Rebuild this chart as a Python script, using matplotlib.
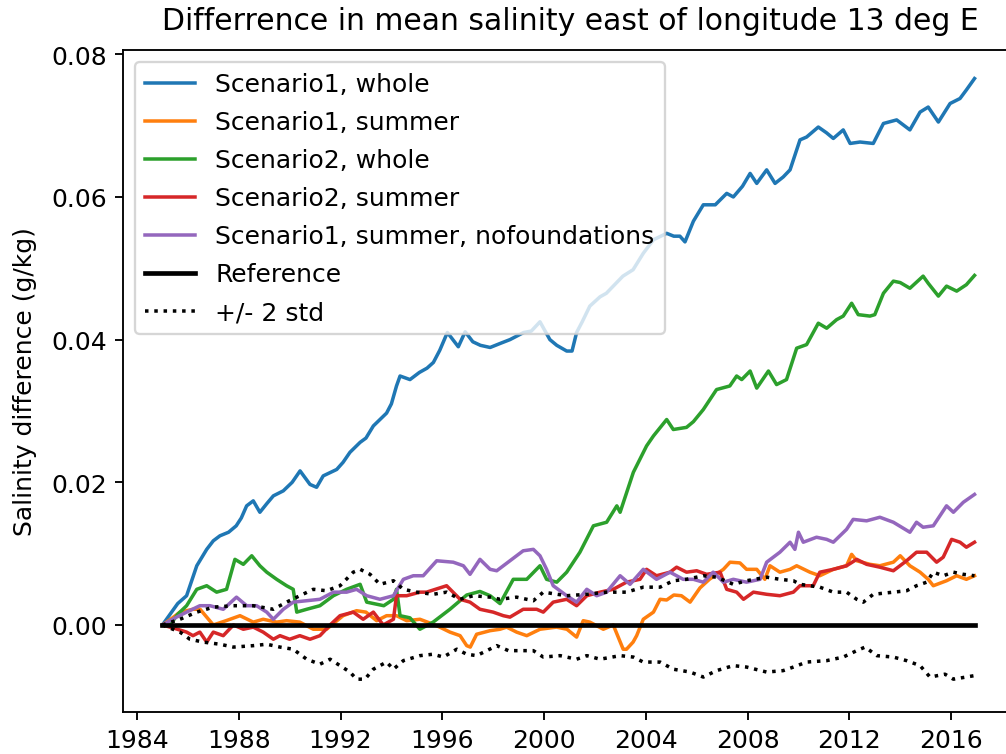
import matplotlib
matplotlib.use("Agg")
import matplotlib.pyplot as plt

# ---------------- data (decimal years, g/kg) ----------------
s1_whole_t = [1985.0, 1985.3, 1985.6, 1985.95, 1986.35, 1986.74, 1987.0, 1987.26, 1987.6, 1987.9,
              1988.1, 1988.31, 1988.57, 1988.83, 1989.1, 1989.36, 1989.75, 1990.1, 1990.41, 1990.8,
              1991.06, 1991.32, 1991.85, 1992.1, 1992.37, 1992.77, 1993.0, 1993.29, 1993.81, 1994.0,
              1994.2, 1994.34, 1994.73, 1995.1, 1995.4, 1995.65, 1995.9, 1996.2, 1996.63, 1996.9,
              1997.2, 1997.5, 1997.88, 1998.3, 1998.66, 1999.2, 1999.5, 1999.84, 2000.23, 2000.5,
              2000.89, 2001.1, 2001.28, 2001.5, 2001.8, 2002.2, 2002.45, 2002.72, 2003.1, 2003.5,
              2003.9, 2004.3, 2004.82, 2005.1, 2005.34, 2005.54, 2005.87, 2006.26, 2006.73, 2007.18,
              2007.44, 2007.8, 2008.1, 2008.36, 2008.75, 2009.08, 2009.4, 2009.67, 2010.06, 2010.32,
              2010.78, 2011.1, 2011.37, 2011.76, 2012.03, 2012.42, 2012.94, 2013.34, 2013.86, 2014.38,
              2014.78, 2015.1, 2015.5, 2015.96, 2016.35, 2016.6, 2016.92]
s1_whole_v = [0.0, 0.0015, 0.003, 0.0041, 0.0083, 0.0106, 0.0118, 0.0125, 0.0130, 0.0139,
              0.0150, 0.0167, 0.0174, 0.0158, 0.0170, 0.0181, 0.0188, 0.0200, 0.0216, 0.0197,
              0.0193, 0.0209, 0.0218, 0.0228, 0.0242, 0.0256, 0.0262, 0.0279, 0.0297, 0.0310,
              0.0335, 0.0349, 0.0344, 0.0354, 0.0360, 0.0368, 0.0385, 0.0410, 0.0390, 0.0411,
              0.0397, 0.0392, 0.0389, 0.0395, 0.0400, 0.0410, 0.0412, 0.0425, 0.0400, 0.0392,
              0.0384, 0.0384, 0.0410, 0.0425, 0.0447, 0.0460, 0.0465, 0.0475, 0.0489, 0.0498,
              0.0521, 0.0540, 0.0549, 0.0545, 0.0545, 0.0537, 0.0566, 0.0589, 0.0589, 0.0605,
              0.0600, 0.0615, 0.0633, 0.0619, 0.0638, 0.0619, 0.0628, 0.0638, 0.0680, 0.0684,
              0.0698, 0.0690, 0.0682, 0.0694, 0.0675, 0.0677, 0.0675, 0.0703, 0.0708, 0.0694,
              0.0719, 0.0726, 0.0705, 0.0731, 0.0738, 0.0750, 0.0766]

s1_summer_t = [1985.0, 1985.4, 1985.69, 1986.2, 1986.48, 1987.0, 1987.5, 1988.05, 1988.57, 1988.96,
               1989.49, 1989.88, 1990.4, 1990.93, 1991.45, 1992.1, 1992.63, 1993.0, 1993.42, 1993.81,
               1994.2, 1994.6, 1995.12, 1995.64, 1995.9, 1996.3, 1996.7, 1996.96, 1997.1, 1997.35,
               1997.88, 1998.27, 1998.53, 1998.92, 1999.32, 1999.84, 2000.49, 2000.9, 2001.28, 2001.54,
               2001.8, 2002.33, 2002.72, 2003.11, 2003.24, 2003.5, 2003.64, 2003.9, 2004.3, 2004.56,
               2004.82, 2005.1, 2005.4, 2005.74, 2006.13, 2006.5, 2007.05, 2007.31, 2007.7, 2007.96,
               2008.36, 2008.68, 2008.88, 2009.27, 2009.67, 2009.93, 2010.45, 2010.84, 2011.37, 2011.89,
               2012.09, 2012.29, 2012.81, 2013.2, 2013.73, 2014.0, 2014.38, 2014.78, 2015.1, 2015.3,
               2015.82, 2016.22, 2016.6, 2016.92]
s1_summer_v = [0.0, 0.001, 0.0018, 0.0022, 0.0022, 0.0, 0.0006, 0.0013, 0.0004, 0.0008,
               0.0004, 0.0006, 0.0004, -0.0006, -0.0006, 0.0013, 0.002, 0.0018, 0.0006, 0.0013,
               0.0013, 0.0006, 0.0008, 0.0001, -0.0003, -0.001, -0.0015, -0.0029, -0.0031, -0.0013,
               -0.0008, -0.0006, -0.0003, -0.001, -0.0015, -0.0006, -0.0003, -0.0006, -0.0017, 0.0006,
               0.0004, -0.0006, 0.0, -0.0034, -0.0034, -0.0024, -0.0015, 0.0008, 0.0018, 0.0036,
               0.0035, 0.0042, 0.0041, 0.0032, 0.0052, 0.0064, 0.0078, 0.0088, 0.0087, 0.0078,
               0.0078, 0.0064, 0.0083, 0.0074, 0.0078, 0.0083, 0.0074, 0.0069, 0.0078, 0.0083,
               0.0099, 0.0090, 0.0085, 0.0083, 0.0088, 0.0097, 0.0083, 0.0074, 0.0064, 0.0055,
               0.0062, 0.0069, 0.0064, 0.0069]

s2_whole_t = [1985.0, 1985.3, 1985.6, 1985.95, 1986.35, 1986.74, 1987.13, 1987.52, 1987.85, 1988.18,
              1988.51, 1988.83, 1989.1, 1989.49, 1989.88, 1990.14, 1990.28, 1990.67, 1991.19, 1991.72,
              1992.24, 1992.77, 1993.03, 1993.7, 1994.08, 1994.2, 1994.34, 1994.73, 1995.12, 1995.64,
              1996.3, 1996.96, 1997.48, 1997.88, 1998.27, 1998.79, 1999.32, 1999.84, 2000.1, 2000.5,
              2000.89, 2001.41, 2001.94, 2002.46, 2002.86, 2002.99, 2003.51, 2004.03, 2004.3, 2004.82,
              2005.08, 2005.6, 2005.87, 2006.26, 2006.78, 2007.3, 2007.57, 2007.77, 2008.1, 2008.36,
              2008.82, 2009.14, 2009.53, 2009.93, 2010.32, 2010.78, 2011.11, 2011.5, 2011.76, 2012.09,
              2012.35, 2012.81, 2013.0, 2013.34, 2013.73, 2014.0, 2014.38, 2014.9, 2015.1, 2015.5,
              2015.82, 2016.22, 2016.6, 2016.92]
s2_whole_v = [0.0, 0.0, 0.0015, 0.0027, 0.005, 0.0055, 0.0046, 0.005, 0.0092, 0.0085,
              0.0097, 0.0083, 0.0074, 0.0064, 0.0055, 0.005, 0.0018, 0.0022, 0.0027, 0.0041,
              0.005, 0.0057, 0.0032, 0.0027, 0.0036, 0.005, 0.0013, 0.0010, -0.0006, 0.0004,
              0.0022, 0.0042, 0.0047, 0.0041, 0.0030, 0.0064, 0.0064, 0.0083, 0.0064, 0.006,
              0.0074, 0.0102, 0.0139, 0.0144, 0.0167, 0.0158, 0.0214, 0.0251, 0.0265, 0.0288,
              0.0274, 0.0277, 0.0285, 0.0302, 0.0330, 0.0335, 0.0349, 0.0344, 0.0356, 0.0332,
              0.0356, 0.0337, 0.0344, 0.0388, 0.0393, 0.0423, 0.0416, 0.0428, 0.0433, 0.0451,
              0.0435, 0.0433, 0.0435, 0.0465, 0.0482, 0.0480, 0.0472, 0.0489, 0.0479, 0.0461,
              0.0475, 0.0468, 0.0477, 0.0490]

s2_summer_t = [1985.0, 1985.5, 1985.95, 1986.2, 1986.47, 1986.74, 1987.0, 1987.39, 1987.79, 1988.18,
               1988.57, 1988.96, 1989.36, 1989.62, 1990.0, 1990.4, 1990.8, 1991.19, 1991.59, 1991.98,
               1992.5, 1992.89, 1993.29, 1993.68, 1994.08, 1994.2, 1994.6, 1995.12, 1995.38, 1996.17,
               1996.7, 1997.09, 1997.48, 1998.0, 1998.4, 1998.66, 1999.18, 1999.71, 1999.97, 2000.36,
               2000.89, 2001.28, 2001.68, 2002.2, 2002.72, 2003.24, 2003.77, 2004.03, 2004.42, 2004.95,
               2005.21, 2005.6, 2006.0, 2006.39, 2006.92, 2007.18, 2007.57, 2007.84, 2008.23, 2008.75,
               2009.27, 2009.8, 2010.06, 2010.58, 2010.84, 2011.37, 2011.89, 2012.29, 2012.68, 2013.2,
               2013.73, 2014.25, 2014.64, 2015.04, 2015.43, 2015.69, 2016.02, 2016.35, 2016.6, 2016.92]
s2_summer_v = [0.0, -0.0005, -0.001, -0.0015, -0.001, -0.0024, -0.001, -0.0015, 0.0, -0.0006,
               -0.0003, -0.001, -0.002, -0.0015, -0.002, -0.0015, -0.002, -0.0015, 0.0, 0.0013,
               0.0018, 0.0008, 0.0018, 0.0, 0.0008, 0.0041, 0.0041, 0.0046, 0.0046, 0.0055,
               0.0036, 0.0032, 0.0022, 0.0018, 0.0013, 0.0011, 0.0022, 0.0022, 0.0018, 0.0032,
               0.0036, 0.0027, 0.0041, 0.0046, 0.005, 0.006, 0.0064, 0.0078, 0.0069, 0.0074,
               0.0081, 0.0074, 0.0076, 0.0071, 0.0074, 0.005, 0.0046, 0.0036, 0.0046, 0.0043,
               0.0041, 0.0046, 0.0055, 0.0055, 0.0074, 0.0078, 0.0083, 0.0092, 0.0085, 0.0081,
               0.0076, 0.009, 0.0102, 0.0102, 0.0088, 0.0095, 0.012, 0.0116, 0.0109, 0.0116]

s1_nofound_t = [1985.0, 1985.5, 1985.95, 1986.47, 1986.87, 1987.39, 1987.91, 1988.31, 1988.7, 1989.1,
                1989.36, 1989.75, 1990.14, 1990.67, 1991.19, 1991.72, 1992.24, 1992.63, 1993.03, 1993.55,
                1994.08, 1994.47, 1994.86, 1995.25, 1995.78, 1996.43, 1996.83, 1997.09, 1997.48, 1997.88,
                1998.14, 1998.66, 1999.18, 1999.58, 1999.84, 2000.1, 2000.36, 2000.89, 2001.28, 2001.68,
                2002.07, 2002.46, 2002.99, 2003.38, 2003.9, 2004.42, 2004.95, 2005.47, 2005.87, 2006.26,
                2006.65, 2007.05, 2007.44, 2007.96, 2008.49, 2008.75, 2009.27, 2009.67, 2009.86, 2010.0,
                2010.19, 2010.71, 2011.11, 2011.37, 2011.89, 2012.15, 2012.68, 2013.2, 2013.73, 2014.38,
                2014.64, 2014.9, 2015.3, 2015.82, 2016.09, 2016.48, 2016.92]
s1_nofound_v = [0.0, 0.001, 0.0018, 0.0027, 0.0027, 0.0022, 0.0039, 0.0027, 0.0027, 0.0018,
                0.0008, 0.0022, 0.0032, 0.0034, 0.0036, 0.0046, 0.0046, 0.005, 0.0041, 0.0036,
                0.0041, 0.0064, 0.0069, 0.0069, 0.009, 0.0088, 0.0083, 0.0071, 0.0092, 0.0078,
                0.0076, 0.009, 0.0104, 0.0106, 0.0097, 0.0078, 0.0055, 0.0041, 0.0032, 0.005,
                0.0041, 0.0046, 0.0069, 0.0057, 0.0078, 0.0064, 0.0074, 0.0064, 0.0064, 0.006,
                0.0074, 0.006, 0.0064, 0.006, 0.0064, 0.0088, 0.0102, 0.0116, 0.0106, 0.013,
                0.0116, 0.0123, 0.012, 0.0116, 0.0134, 0.0148, 0.0146, 0.0151, 0.0144, 0.013,
                0.0144, 0.0137, 0.0139, 0.0167, 0.0158, 0.0172, 0.0183]

ref_t = [1985.0, 2016.92]
ref_v = [0.0, 0.0]

std_up_t = [1985.0, 1985.69, 1986.35, 1987.0, 1987.79, 1988.57, 1989.36, 1989.88, 1990.4, 1990.93,
            1991.45, 1991.98, 1992.5, 1992.77, 1993.16, 1993.55, 1994.08, 1994.47, 1995.0, 1995.64,
            1996.17, 1996.7, 1997.22, 1997.88, 1998.27, 1998.92, 1999.58, 1999.97, 2000.89, 2001.68,
            2002.46, 2003.24, 2003.9, 2004.56, 2005.08, 2005.6, 2006.26, 2006.78, 2007.44, 2007.96,
            2008.75, 2009.27, 2009.8, 2010.06, 2010.84, 2011.37, 2011.89, 2012.29, 2012.55, 2012.94,
            2013.73, 2014.25, 2014.64, 2015.04, 2015.3, 2015.69, 2016.09, 2016.48, 2016.92]
std_up_v = [0.0, 0.0008, 0.0018, 0.0025, 0.0027, 0.0027, 0.0022, 0.0032, 0.0041, 0.005,
            0.0048, 0.0055, 0.0074, 0.0078, 0.0071, 0.0057, 0.0062, 0.005, 0.0046, 0.0043,
            0.0046, 0.0036, 0.0041, 0.0039, 0.0036, 0.0039, 0.0034, 0.0046, 0.0041, 0.0043,
            0.0046, 0.0046, 0.0053, 0.0053, 0.0062, 0.0064, 0.0069, 0.0067, 0.0057, 0.0062,
            0.0067, 0.0064, 0.0062, 0.0057, 0.0053, 0.0046, 0.0046, 0.0036, 0.0032, 0.0043,
            0.0046, 0.0048, 0.0055, 0.006, 0.0074, 0.0069, 0.0074, 0.0071, 0.0069]

std_lo_t = [1985.0, 1985.69, 1986.08, 1986.6, 1987.26, 1987.79, 1988.57, 1989.1, 1989.62, 1990.14,
            1990.67, 1991.19, 1991.59, 1991.98, 1992.37, 1992.63, 1992.96, 1993.29, 1993.81, 1994.08,
            1994.47, 1995.12, 1995.64, 1996.04, 1996.57, 1996.96, 1997.35, 1997.75, 1998.14, 1998.6,
            1999.05, 1999.58, 1999.97, 2000.63, 2001.28, 2001.68, 2002.2, 2002.99, 2003.51, 2003.9,
            2004.56, 2005.08, 2005.74, 2006.26, 2006.78, 2007.44, 2007.96, 2008.75, 2009.4, 2009.8,
            2010.32, 2011.11, 2011.76, 2012.29, 2012.62, 2013.08, 2013.73, 2014.25, 2014.78, 2015.17,
            2015.76, 2016.09, 2016.92]
std_lo_v = [0.0, -0.001, -0.002, -0.0024, -0.0027, -0.0031, -0.0029, -0.0027, -0.0031, -0.0034,
            -0.0048, -0.0055, -0.0048, -0.0057, -0.0066, -0.0076, -0.0076, -0.0062, -0.0052, -0.0062,
            -0.005, -0.0043, -0.0041, -0.0045, -0.0034, -0.0041, -0.0043, -0.0036, -0.0029, -0.0036,
            -0.0036, -0.0036, -0.0045, -0.0043, -0.0048, -0.0043, -0.0048, -0.0043, -0.0045, -0.0052,
            -0.0052, -0.0062, -0.0066, -0.0073, -0.0064, -0.0057, -0.0059, -0.0066, -0.0064, -0.0059,
            -0.0052, -0.005, -0.0045, -0.0036, -0.0031, -0.0043, -0.0045, -0.005, -0.0057, -0.0073,
            -0.0069, -0.0076, -0.0071]

year_ticks = [1984, 1988, 1992, 1996, 2000, 2004, 2008, 2012, 2016]
y_ticks = [0.00, 0.02, 0.04, 0.06, 0.08]

# ---------------- figure ----------------
plt.rcParams["font.size"] = 10.7
DPI = 168
fig = plt.figure(figsize=(1006 / DPI, 755 / DPI), dpi=DPI)
W, H = 1006, 755
ax = fig.add_axes([123 / W, (H - 713) / H, (1017 - 123) / W, (713 - 51) / H])

ax.plot(s1_whole_t, s1_whole_v, color="#1f77b4", lw=1.5, label="Scenario1, whole")
ax.plot(s1_summer_t, s1_summer_v, color="#ff7f0e", lw=1.5, label="Scenario1, summer")
ax.plot(s2_whole_t, s2_whole_v, color="#2ca02c", lw=1.5, label="Scenario2, whole")
ax.plot(s2_summer_t, s2_summer_v, color="#d62728", lw=1.5, label="Scenario2, summer")
ax.plot(s1_nofound_t, s1_nofound_v, color="#9467bd", lw=1.5,
        label="Scenario1, summer, nofoundations")
ax.plot(ref_t, ref_v, color="black", lw=2, label="Reference")
ax.plot(std_up_t, std_up_v, color="black", ls=":", lw=1.5, label="+/- 2 std")
ax.plot(std_lo_t, std_lo_v, color="black", ls=":", lw=1.5)

ax.set_xlim(1983.45, 2018.59)
ax.set_ylim(-0.0122, 0.0806)
ax.set_xticks(year_ticks)
ax.set_xticklabels([str(y) for y in year_ticks])
ax.set_yticks(y_ticks)
ax.set_yticklabels([f"{v:.2f}" for v in y_ticks])

ax.set_title("Differrence in mean salinity east of longitude 13 deg E", pad=9)
ax.set_ylabel("Salinity difference (g/kg)", labelpad=6)
ax.legend(loc="upper left", labelspacing=0.56)

fig.savefig("out.png", dpi=DPI)
